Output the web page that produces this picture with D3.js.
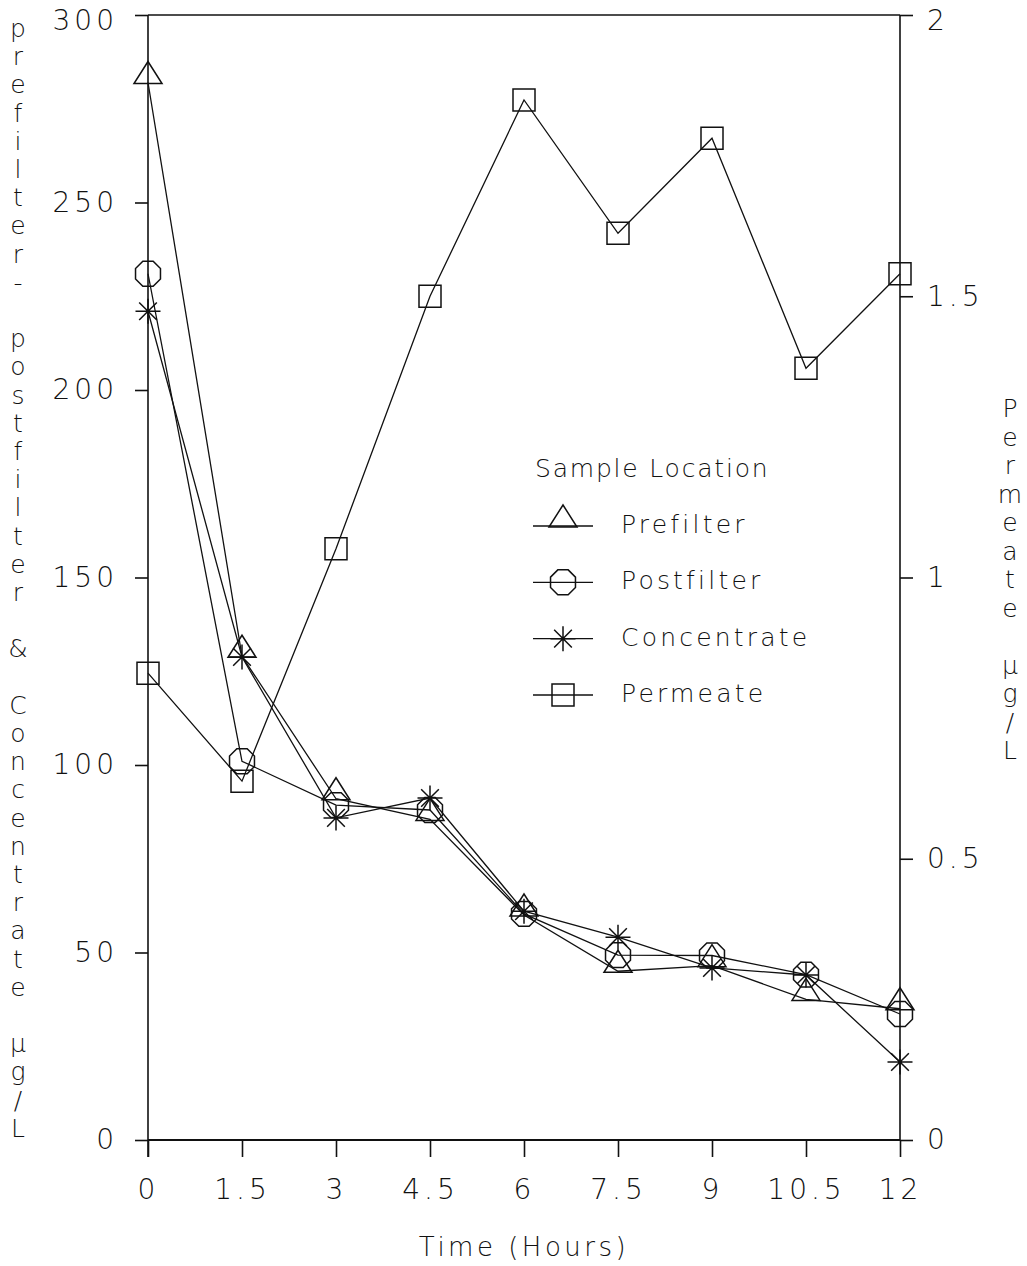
<!DOCTYPE html>
<html>
<head>
<meta charset="utf-8">
<script src="https://cdn.jsdelivr.net/npm/d3@7"></script>
<style>
  html, body { margin: 0; padding: 0; background: #fff; }
  svg text { font-family: "DejaVu Sans", "Liberation Sans", sans-serif; font-weight: 200; fill: #111; }
</style>
</head>
<body>
<svg id="chart" width="1027" height="1266"></svg>
<script>
// Sampling times (hours)
const hours = [0, 1.5, 3, 4.5, 6, 7.5, 9, 10.5, 12];

// Concentrations, µg/L (left axis)
const prefilter   = [282, 129, 91, 85.5, 60, 45, 46.5, 37.5, 35];
const postfilter  = [231, 101, 89.3, 88, 60.3, 49.3, 49.2, 44.1, 33.6];
const concentrate = [221, 128.8, 85.9, 91.2, 61, 54.1, 45.9, 44, 20.8];

// Permeate concentration, µg/L (right axis)
const permeate = [0.83, 0.638, 1.051, 1.5, 1.849, 1.612, 1.781, 1.372, 1.54];

// Tick values
const leftTicks  = [0, 50, 100, 150, 200, 250, 300];
const rightTicks = [0, 0.5, 1, 1.5, 2];
const timeTicks  = [0, 1.5, 3, 4.5, 6, 7.5, 9, 10.5, 12];

const leftTitle  = "prefilter- postfilter & Concentrate µg/L";
const rightTitle = "Permeate µg/L";
const legendTitle = "Sample Location";

const svg = d3.select("#chart");
const plot = { left: 148, right: 900, top: 15, bottom: 1140 };

const x  = d3.scaleLinear().domain([0, 12]).range([plot.left, plot.right]);
const yL = d3.scaleLinear().domain([0, 300]).range([plot.bottom, plot.top]);
const yR = d3.scaleLinear().domain([0, 2]).range([plot.bottom, plot.top]);

const ink = "#111";

// ---- axes ----
const fmt = d => String(d);

const leftAxis = d3.axisLeft(yL).tickValues(leftTicks).tickFormat(fmt).tickSize(13).tickPadding(17);
const rightAxis = d3.axisRight(yR).tickValues(rightTicks).tickFormat(fmt).tickSize(13).tickPadding(14);
const bottomAxis = d3.axisBottom(x).tickValues(timeTicks).tickFormat(fmt).tickSize(17).tickPadding(22);

function styleAxis(g) {
  g.select(".domain").remove();
  g.selectAll(".tick line").attr("stroke", ink).attr("stroke-width", 1.6);
  g.selectAll(".tick text")
    .attr("fill", ink)
    .style("font-size", "28px")
    .style("letter-spacing", "4px");
}

const gLeft = svg.append("g").attr("transform", `translate(${plot.left},0)`).call(leftAxis).call(styleAxis);
const gRight = svg.append("g").attr("transform", `translate(${plot.right},0)`).call(rightAxis).call(styleAxis);
svg.append("g").attr("transform", `translate(0,${plot.bottom})`).call(bottomAxis).call(styleAxis);

// keep the top labels inside the page edge
gLeft.selectAll(".tick text").filter(d => d === 300).attr("dy", "0.5em");
gRight.selectAll(".tick text").filter(d => d === 2).attr("dy", "0.5em");

// frame lines
const frame = svg.append("g").attr("stroke", ink).attr("stroke-width", 1.6).attr("fill", "none");
frame.append("line").attr("x1", plot.left).attr("x2", plot.left).attr("y1", plot.top).attr("y2", plot.bottom + 17);
frame.append("line").attr("x1", plot.right).attr("x2", plot.right).attr("y1", plot.top).attr("y2", plot.bottom);
frame.append("line").attr("x1", plot.left).attr("x2", plot.right).attr("y1", plot.top).attr("y2", plot.top);
frame.append("line").attr("x1", plot.left).attr("x2", plot.right).attr("y1", plot.bottom).attr("y2", plot.bottom).attr("stroke-width", 2);

// ---- axis titles ----
svg.append("text")
  .attr("x", x(6)).attr("y", 1256)
  .attr("text-anchor", "middle")
  .style("font-size", "26px").style("letter-spacing", "3.5px")
  .text("Time (Hours)");

function stackedTitle(str, cx, y0, pitch) {
  const g = svg.append("g");
  g.selectAll("text").data(Array.from(str)).join("text")
    .attr("x", cx)
    .attr("y", (d, i) => y0 + i * pitch)
    .attr("text-anchor", "middle")
    .attr("dominant-baseline", "middle")
    .style("font-size", "25px")
    .text(d => d);
}
stackedTitle(leftTitle, 18, 30, 28.2);
stackedTitle(rightTitle, 1010, 410, 28.5);

// ---- markers ----
const markers = {
  triangle: "M0,-21 L14,1 L-14,1 Z",
  octagon: (() => {
    const r = 13.5, pts = [];
    for (let k = 0; k < 8; k++) {
      const a = Math.PI / 8 + k * Math.PI / 4;
      pts.push([r * Math.cos(a), r * Math.sin(a)]);
    }
    return "M" + pts.map(p => p.join(",")).join("L") + "Z";
  })(),
  asterisk: (() => {
    const r = 12.5, segs = [];
    for (let k = 0; k < 4; k++) {
      const a = k * Math.PI / 4;
      segs.push(`M${-r * Math.cos(a)},${-r * Math.sin(a)}L${r * Math.cos(a)},${r * Math.sin(a)}`);
    }
    return segs.join("");
  })(),
  square: "M-11,-11H11V11H-11Z"
};

const series = [
  { name: "Prefilter",   values: prefilter,   y: yL, marker: "triangle" },
  { name: "Postfilter",  values: postfilter,  y: yL, marker: "octagon" },
  { name: "Concentrate", values: concentrate, y: yL, marker: "asterisk" },
  { name: "Permeate",    values: permeate,    y: yR, marker: "square" }
];

const lineGen = d3.line();

series.forEach(s => {
  const pts = hours.map((h, i) => [x(h), s.y(s.values[i])]);
  svg.append("path")
    .attr("d", lineGen(pts))
    .attr("fill", "none")
    .attr("stroke", ink)
    .attr("stroke-width", 1.3);
  svg.append("g").selectAll("path").data(pts).join("path")
    .attr("transform", d => `translate(${d[0]},${d[1]})`)
    .attr("d", markers[s.marker])
    .attr("fill", "none")
    .attr("stroke", ink)
    .attr("stroke-width", 1.5);
});

// ---- legend ----
const legend = svg.append("g");
legend.append("text")
  .attr("x", 535).attr("y", 470)
  .attr("dominant-baseline", "middle")
  .style("font-size", "25px").style("letter-spacing", "1.8px")
  .text(legendTitle);

const legendY = d3.scalePoint().domain(series.map(s => s.name)).range([526, 695]);
series.forEach(s => {
  const ly = legendY(s.name);
  legend.append("line")
    .attr("x1", 533).attr("x2", 593).attr("y1", ly).attr("y2", ly)
    .attr("stroke", ink).attr("stroke-width", 1.4);
  legend.append("path")
    .attr("transform", `translate(563,${ly})`)
    .attr("d", markers[s.marker])
    .attr("fill", "none").attr("stroke", ink).attr("stroke-width", 1.5);
  legend.append("text")
    .attr("x", 621).attr("y", ly)
    .attr("dominant-baseline", "middle")
    .style("font-size", "25px").style("letter-spacing", "3.2px")
    .text(s.name);
});
</script>
</body>
</html>
